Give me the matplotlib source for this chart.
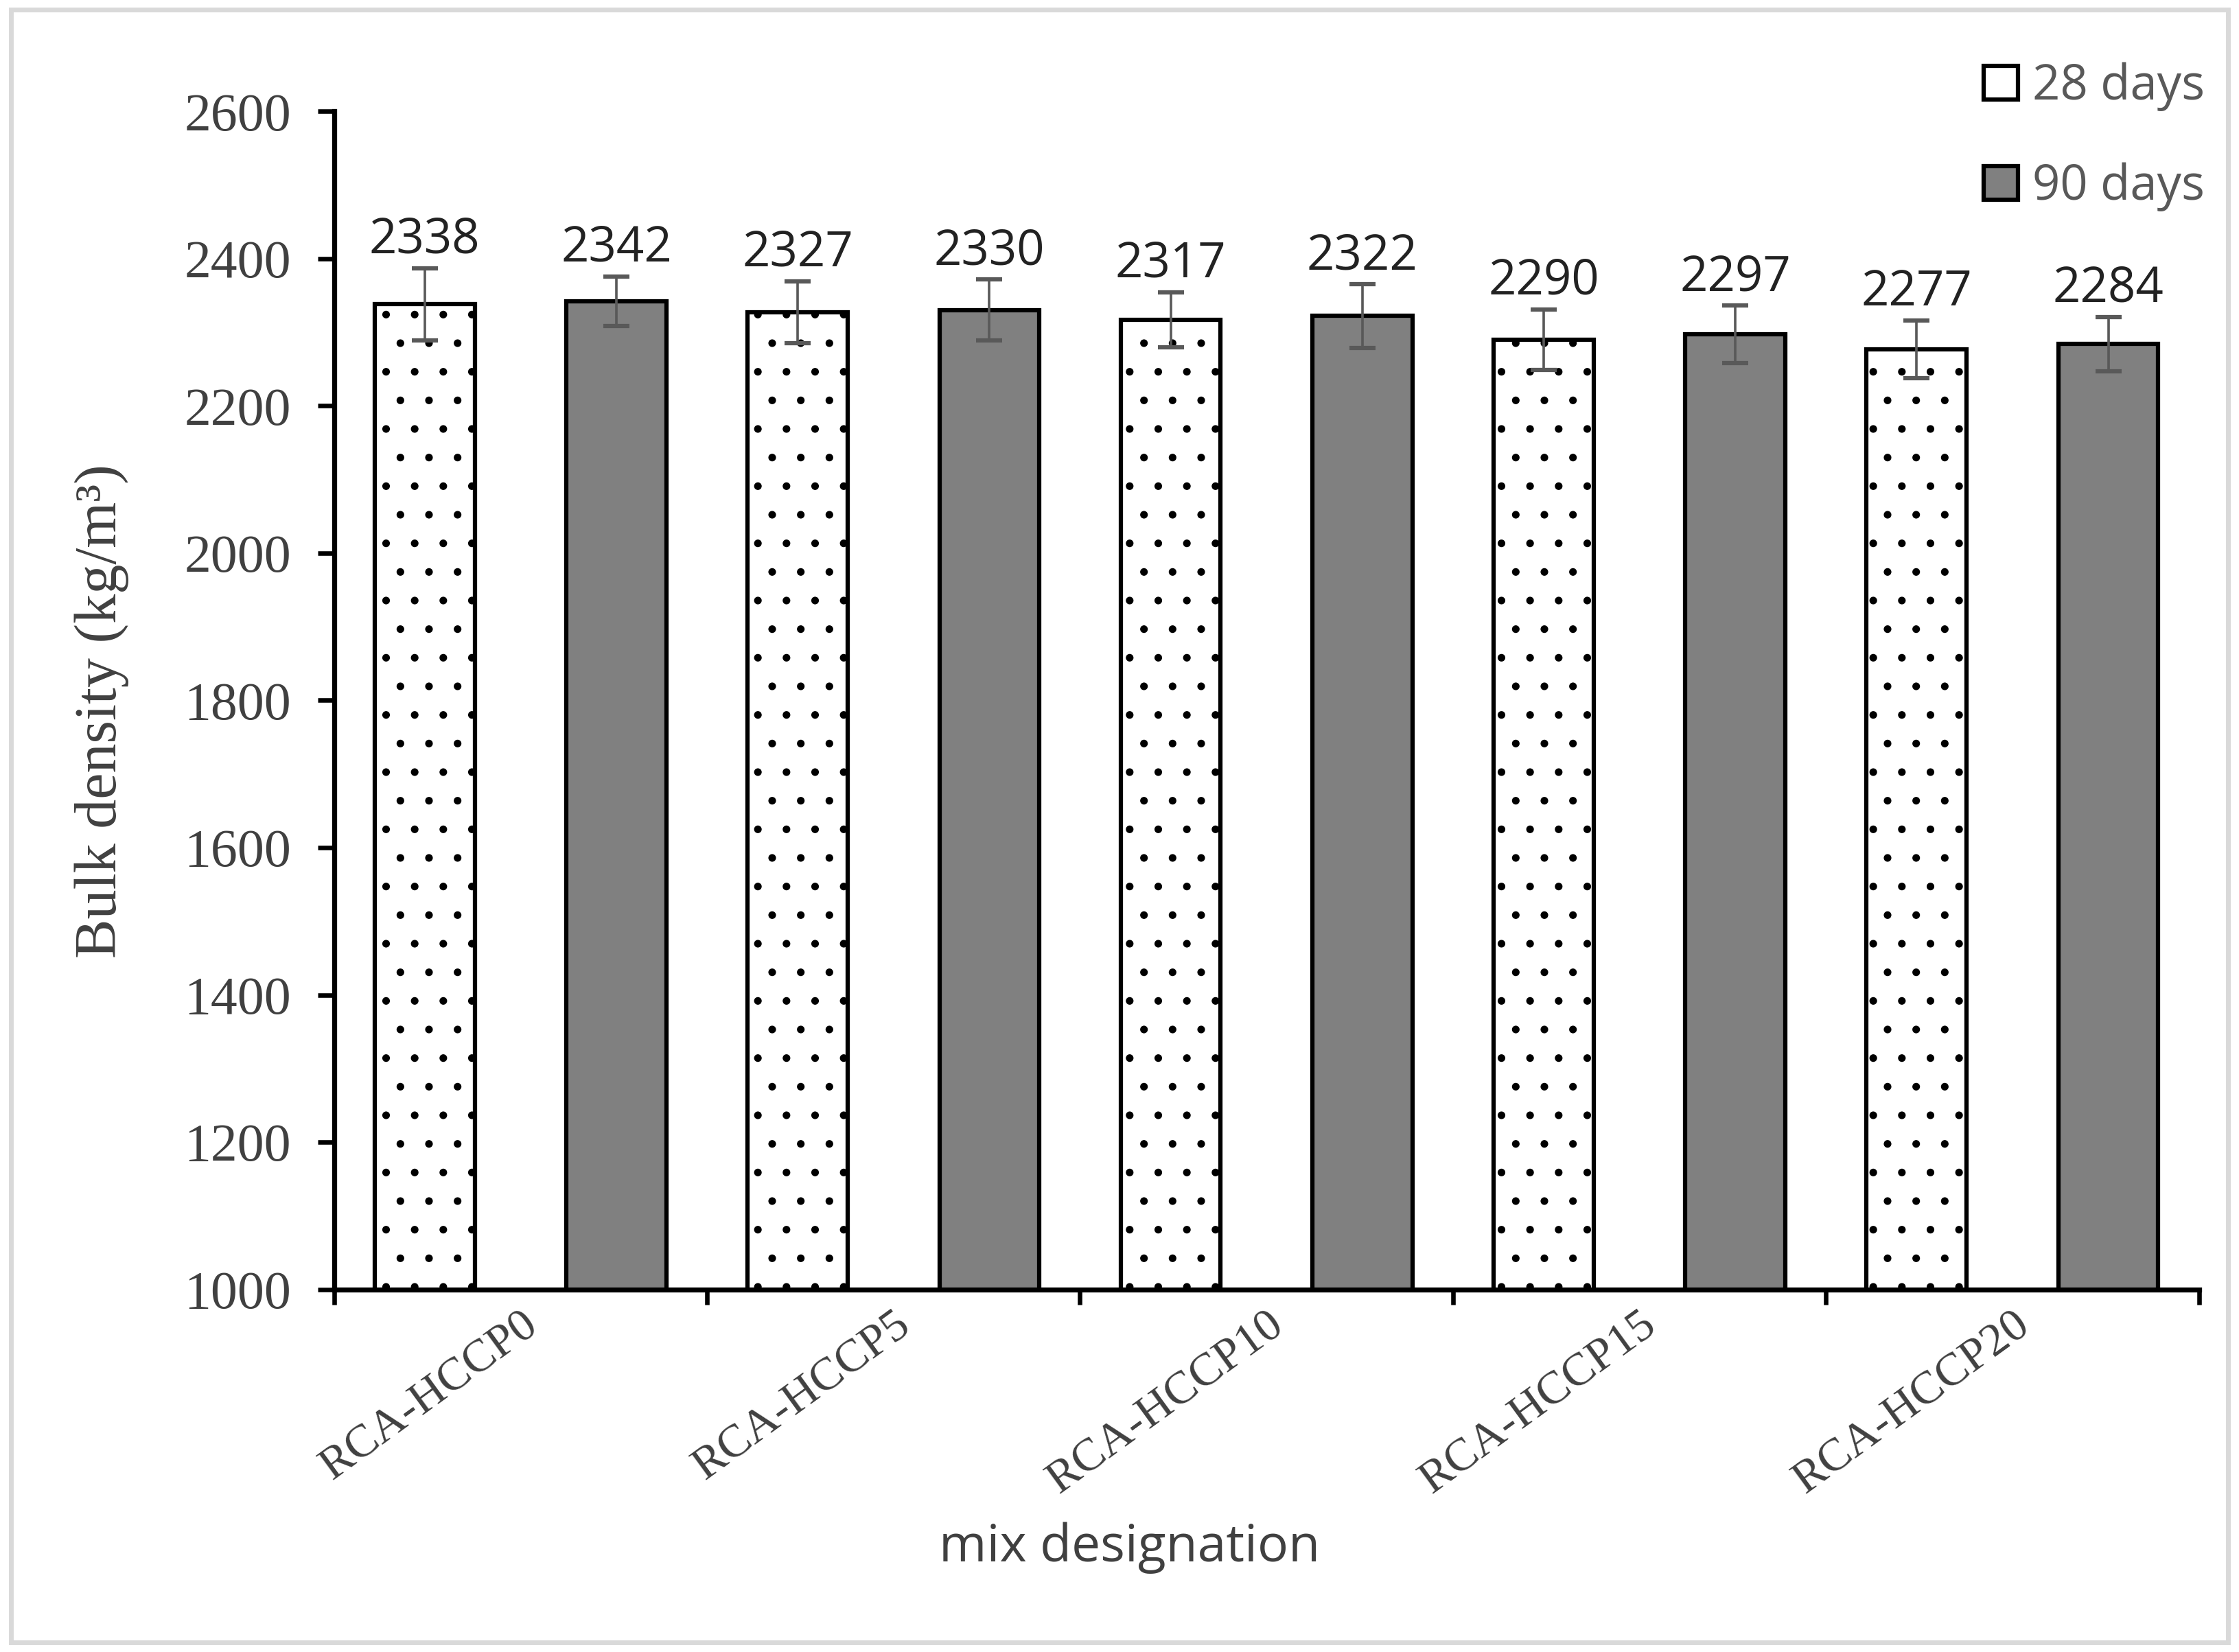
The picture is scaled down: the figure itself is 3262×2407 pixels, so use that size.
import numpy as np
import matplotlib.pyplot as plt
from matplotlib.patches import Patch, Rectangle

mixes = ['RCA-HCCP0', 'RCA-HCCP5', 'RCA-HCCP10', 'RCA-HCCP15', 'RCA-HCCP20']
d28 = [2338, 2327, 2317, 2290, 2277]
d90 = [2342, 2330, 2322, 2297, 2284]
err28 = [49, 42, 37.5, 41, 39]
err90 = [34, 41.5, 43, 39, 37]

serif = 'Liberation Serif'
sans = 'Open Sans'

# dpi 250 so the '.' hatch comes out as sparse as in the original
plt.rcParams['hatch.linewidth'] = 0.8
fig = plt.figure(figsize=(3262 / 250, 2407 / 250), dpi=250)
ax = fig.add_axes([0.1492, 0.2195, 0.8329, 0.7131])

x = np.arange(len(mixes))
w = 0.268
off = 0.257

ax.bar(x - off, d28, w, color='white', edgecolor='black', linewidth=1.8,
       hatch='.', zorder=2)
ax.bar(x + off, d90, w, color='#808080', edgecolor='black', linewidth=1.8,
       zorder=2)

for xs, vals, errs in [(x - off, d28, err28), (x + off, d90, err90)]:
    ax.errorbar(xs, vals, yerr=errs, fmt='none', ecolor='#595959',
                elinewidth=1.05, capsize=5.6, capthick=1.8, zorder=3)
    for xi, v, e in zip(xs, vals, errs):
        ax.annotate(str(v), (xi, v + e), xytext=(0, 1.5), textcoords='offset points',
                    ha='center', va='bottom', fontsize=20.4, family=sans,
                    color='#222222')

ax.set_xlim(-0.5, len(mixes) - 0.5)
ax.set_ylim(1000, 2600)
ax.set_yticks(np.arange(1000, 2601, 200))
ax.tick_params(axis='y', direction='out', length=7, width=1.9, pad=11,
               labelsize=22.4, labelcolor='#404040')
for t in ax.get_yticklabels():
    t.set_family(serif)

ax.set_xticks(np.arange(-0.5, len(mixes), 1.0))
ax.set_xticklabels([])
ax.tick_params(axis='x', which='major', direction='out', length=6.4, width=1.9)
ax.set_xticks(x, minor=True)
ax.set_xticklabels(mixes, minor=True, rotation=36, ha='right', va='top',
                   rotation_mode='anchor', family=serif, fontsize=19.6,
                   color='#404040')
ax.tick_params(axis='x', which='minor', length=0, pad=6)

for s in ['top', 'right']:
    ax.spines[s].set_visible(False)
for s in ['left', 'bottom']:
    ax.spines[s].set_linewidth(2.1)
    ax.spines[s].set_color('black')

ax.set_ylabel('Bulk density (kg/m³)', family=serif, fontsize=24.8, color='#404040')
ax.yaxis.set_label_coords(-0.1245, 0.491)
ax.yaxis.label.set_verticalalignment('center')
ax.set_xlabel('mix designation', family=sans, fontsize=21.6, color='#404040')
ax.xaxis.set_label_coords(0.4265, -0.2195)
ax.xaxis.label.set_verticalalignment('center')

handles = [Patch(facecolor='white', edgecolor='black', linewidth=1.8, label='28 days'),
           Patch(facecolor='#808080', edgecolor='black', linewidth=1.8, label='90 days')]
leg = fig.legend(handles=handles, loc='upper right', bbox_to_anchor=(0.9955, 0.977),
                 frameon=False, handlelength=0.7, handleheight=0.7,
                 handletextpad=0.3, labelspacing=1.05, borderpad=0,
                 prop={'family': sans, 'size': 20.4})
for t in leg.get_texts():
    t.set_color('#595959')

fig.patches.append(Rectangle((0.005, 0.006), 0.99, 0.988, transform=fig.transFigure,
                             fill=False, edgecolor='#d9d9d9', linewidth=2.0))

fig.savefig('out.png', dpi=250)
